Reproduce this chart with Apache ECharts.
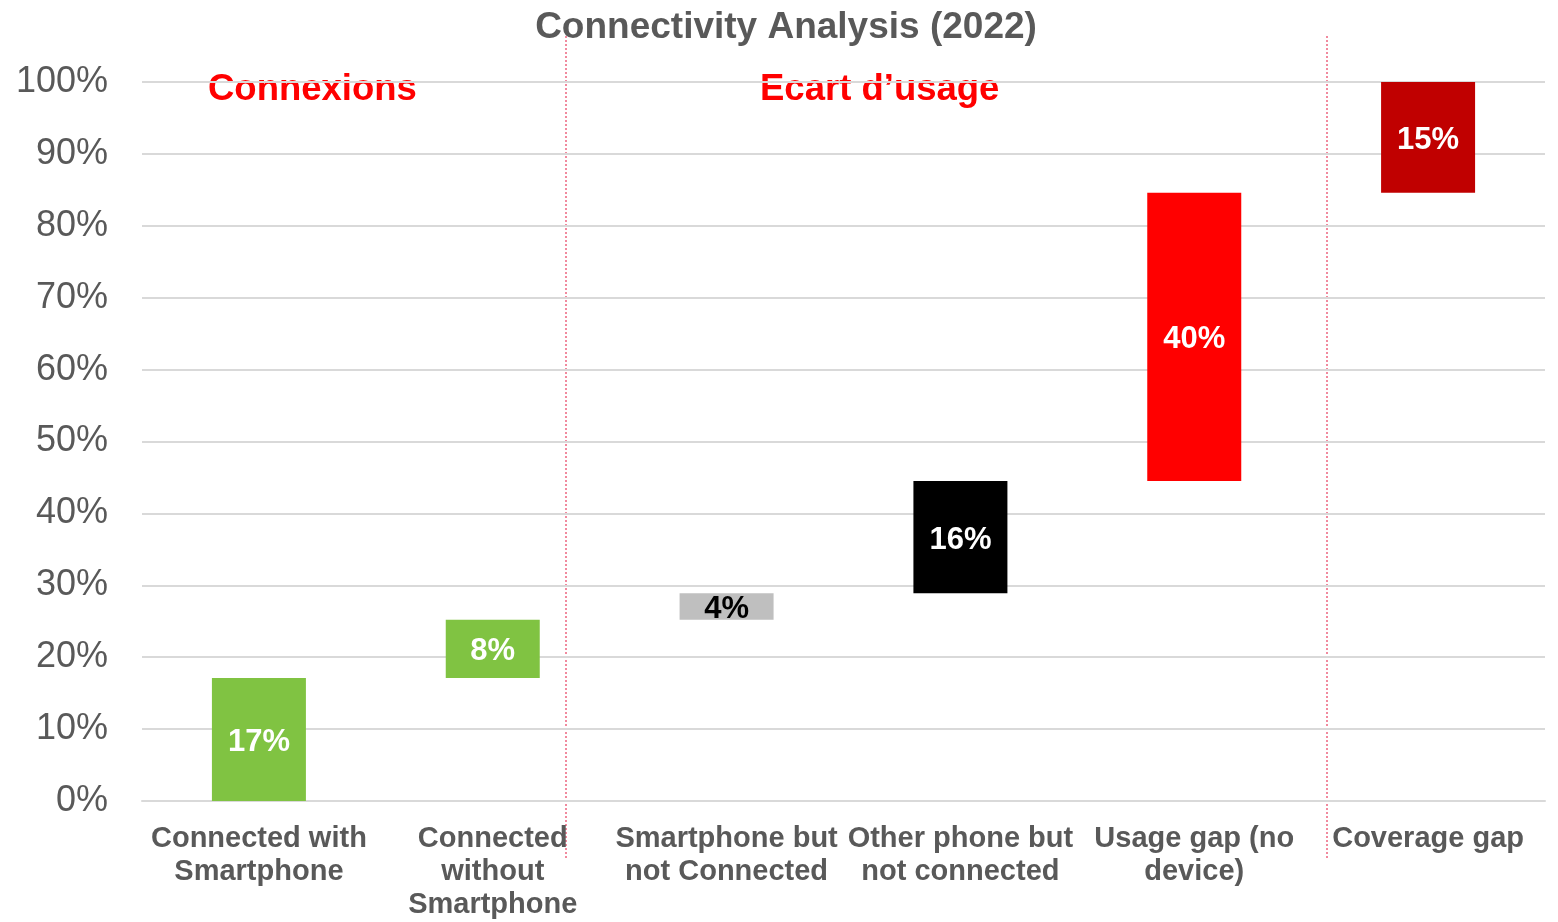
<!DOCTYPE html>
<html>
<head>
<meta charset="utf-8">
<title>Connectivity Analysis (2022)</title>
<script src="https://cdn.jsdelivr.net/npm/echarts@6/dist/echarts.min.js"></script>
<style>
  html, body { margin: 0; padding: 0; background: #fff; }
  #chart { width: 1558px; height: 922px; }
</style>
</head>
<body>
<div id="chart"></div>
<script>
// categories on the x axis
const categories = [
  "Connected with\nSmartphone",
  "Connected\nwithout\nSmartphone",
  "Smartphone but\nnot Connected",
  "Other phone but\nnot connected",
  "Usage gap (no\ndevice)",
  "Coverage gap"
];
// share of each step (%)
const shares = [17.1, 8.1, 3.7, 15.6, 40.1, 15.4];
const barColors = ["#80C342", "#80C342", "#BFBFBF", "#000000", "#FF0000", "#C00000"];
const labelColors = ["#fff", "#fff", "#000", "#fff", "#fff", "#fff"];
const yTicks = [0, 10, 20, 30, 40, 50, 60, 70, 80, 90, 100];

// invisible base for the waterfall = running total before each step
const bases = [];
let run = 0;
shares.forEach(function (v) { bases.push(+run.toFixed(1)); run += v; });

const font = "'Liberation Sans', Arial, sans-serif";
const chart = echarts.init(document.getElementById("chart"));

chart.setOption({
  animation: false,
  title: {
    text: "Connectivity Analysis (2022)",
    left: 781,
    textAlign: "center",
    top: 4,
    textStyle: { fontFamily: font, fontSize: 37, fontWeight: "bold", color: "#595959" }
  },
  grid: { left: 142, right: 13, top: 82, bottom: 121 },
  xAxis: {
    type: "category",
    data: categories,
    axisLine: { show: true, lineStyle: { color: "#D9D9D9", width: 2 } },
    axisTick: { show: false },
    axisLabel: {
      interval: 0,
      margin: 21,
      fontFamily: font,
      fontSize: 29,
      fontWeight: "bold",
      lineHeight: 33,
      color: "#595959"
    }
  },
  yAxis: {
    type: "value",
    min: yTicks[0],
    max: yTicks[yTicks.length - 1],
    interval: 10,
    axisLine: { show: false },
    axisTick: { show: false },
    splitLine: { lineStyle: { color: "#D9D9D9", width: 2 } },
    axisLabel: {
      margin: 34,
      fontFamily: font,
      fontSize: 36,
      color: "#595959",
      padding: [4, 0, 0, 0],
      formatter: "{value}%"
    }
  },
  series: [
    {
      name: "base",
      type: "bar",
      stack: "wf",
      barWidth: 94,
      itemStyle: { color: "transparent" },
      emphasis: { disabled: true },
      data: bases
    },
    {
      name: "share",
      type: "bar",
      stack: "wf",
      barWidth: 94,
      data: shares.map(function (v, i) {
        return {
          value: v,
          itemStyle: { color: barColors[i] },
          label: { color: labelColors[i] }
        };
      }),
      label: {
        show: true,
        position: "inside",
        offset: [0, 3],
        fontFamily: font,
        fontSize: 31,
        fontWeight: "bold",
        formatter: function (p) { return Math.round(p.value) + "%"; }
      }
    }
  ],
  graphic: [
    {
      type: "text",
      left: 208,
      top: 71,
      style: { text: "Connexions", fill: "#FF0000", font: "bold 36.5px " + font }
    },
    {
      type: "text",
      left: 760,
      top: 71,
      style: { text: "Ecart d\u2019usage", fill: "#FF0000", font: "bold 36.5px " + font }
    },
    {
      type: "line",
      shape: { x1: 566, y1: 36, x2: 566, y2: 860 },
      style: { stroke: "#E3173E", lineWidth: 1, lineDash: [2, 2] }
    },
    {
      type: "line",
      shape: { x1: 1327, y1: 36, x2: 1327, y2: 860 },
      style: { stroke: "#E3173E", lineWidth: 1, lineDash: [2, 2] }
    }
  ]
});
</script>
</body>
</html>
